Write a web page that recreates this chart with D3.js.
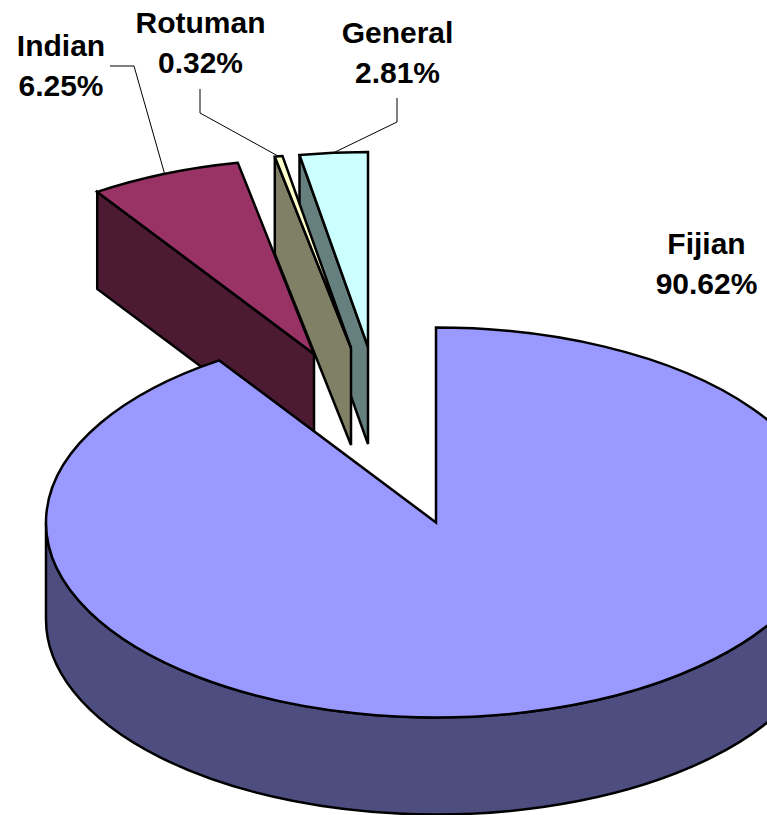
<!DOCTYPE html>
<html>
<head>
<meta charset="utf-8">
<script src="https://d3js.org/d3.v7.min.js"></script>
<style>
  body { margin: 0; background: #fff; }
  svg { display: block; }
  text { font-family: "Liberation Sans", Arial, sans-serif; font-weight: bold; font-size: 30px; fill: #000; text-anchor: middle; }
</style>
</head>
<body>
<div id="chart"></div>
<script>
// Data
var categories = ["Fijian", "Indian", "Rotuman", "General"];
var values = [90.62, 6.25, 0.32, 2.81];
var percentLabels = ["90.62%", "6.25%", "0.32%", "2.81%"];

// colours per slice, top face and side wall
var topColors = ["#9999FF", "#993366", "#FFFFCC", "#CCFFFF"];
var wallColors = ["#4D4D80", "#4D1A33", "#808066", "#668080"];

// where each slice's tip sits once pulled out of the pie
var centers = [[436, 522.5], [314, 354], [351, 348], [368, 347]];
// label centre x, first baseline y
var labelPos = [[706.5, 254], [61, 56], [200.5, 33], [397.5, 43]];
// leader line elbows, null = no leader
var elbows = [null, [[110, 66], [134, 66]], [[200, 89], [200, 113]], [[397, 98], [397, 122]]];

var width = 767, height = 815;
var rx = 390, ry = 195, depth = 97;
var outline = 2.5;

var svg = d3.select("#chart")
  .append("svg")
    .attr("width", width)
    .attr("height", height);

var slices = d3.pie().sort(null)(values);
var arc = d3.arc().innerRadius(0).outerRadius(rx);

function rimPoint(i, angle) {
  return [centers[i][0] + rx * Math.sin(angle), centers[i][1] - ry * Math.cos(angle)];
}

function drawCutWall(i, angle) {
  var c = centers[i], p = rimPoint(i, angle);
  svg.append("path")
    .attr("d", d3.line()([c, p, [p[0], p[1] + depth], [c[0], c[1] + depth]]) + "Z")
    .attr("fill", wallColors[i])
    .attr("stroke", "#000")
    .attr("stroke-width", outline);
}

function drawRimWall(i) {
  // front half of the cylinder, left tangent to right tangent
  var c = centers[i];
  var l = c[0] - rx, r = c[0] + rx, y = c[1];
  svg.append("path")
    .attr("d", "M" + l + "," + y + "A" + rx + "," + ry + " 0 0 0 " + r + "," + y +
      "L" + r + "," + (y + depth) + "A" + rx + "," + ry + " 0 0 1 " + l + "," + (y + depth) + "Z")
    .attr("fill", wallColors[i])
    .attr("stroke", "#000")
    .attr("stroke-width", outline);
}

function drawTop(i) {
  svg.append("g")
    .attr("transform", "translate(" + centers[i][0] + "," + centers[i][1] + ")scale(1," + (ry / rx) + ")")
    .append("path")
    .attr("d", arc(slices[i]))
    .attr("fill", topColors[i])
    .attr("stroke", "#000")
    .attr("stroke-width", outline)
    .attr("vector-effect", "non-scaling-stroke");
}

// back to front: General, Indian, Rotuman, then the big slice
drawCutWall(3, slices[3].startAngle);
drawTop(3);
drawCutWall(1, slices[1].startAngle);
drawTop(1);
drawCutWall(2, slices[2].startAngle);
drawTop(2);
drawRimWall(0);
drawTop(0);

// Leader lines
elbows.forEach(function(e, i) {
  if (!e) return;
  var mid = (slices[i].startAngle + slices[i].endAngle) / 2;
  svg.append("path")
    .attr("d", d3.line()(e.concat([rimPoint(i, mid)])))
    .attr("fill", "none")
    .attr("stroke", "#000")
    .attr("stroke-width", 1);
});

// Labels
categories.forEach(function(name, i) {
  svg.append("text").attr("x", labelPos[i][0]).attr("y", labelPos[i][1]).text(name);
  svg.append("text").attr("x", labelPos[i][0]).attr("y", labelPos[i][1] + 40).text(percentLabels[i]);
});
</script>
</body>
</html>
